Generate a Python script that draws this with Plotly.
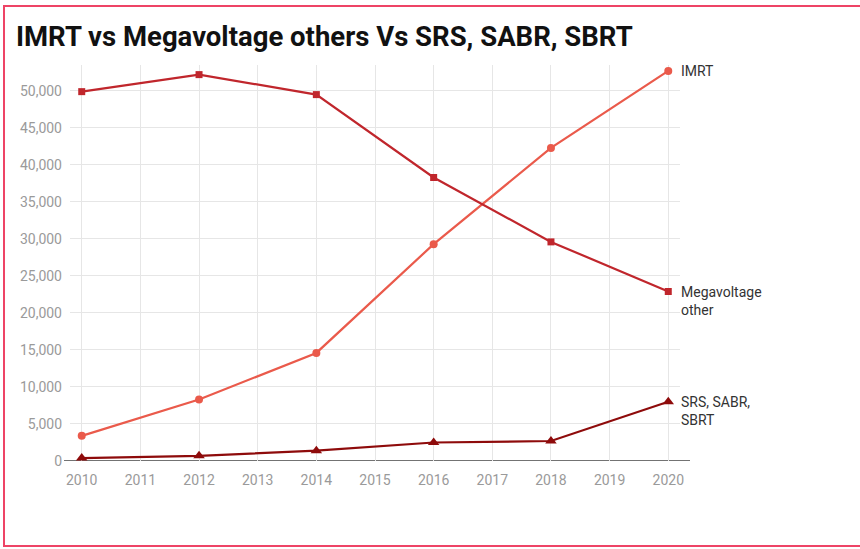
import plotly.graph_objects as go

# Yearly treatment counts by technique
years = [2010, 2012, 2014, 2016, 2018, 2020]
imrt = [3400, 8300, 14600, 29300, 42300, 52700]
megavoltage_other = [49900, 52200, 49500, 38300, 29600, 22900]
srs_sabr_sbrt = [400, 700, 1400, 2500, 2700, 8000]

x_ticks = list(range(2010, 2021))
y_ticks = list(range(0, 50001, 5000))

series = [
    ("IMRT", imrt, "#ea5a4b", "circle", 8, "IMRT"),
    ("Megavoltage other", megavoltage_other, "#c0262c", "square", 7, "Megavoltage<br>other"),
    ("SRS, SABR, SBRT", srs_sabr_sbrt, "#8e0b0b", "triangle-up", 10, "SRS, SABR,<br>SBRT"),
]

W, H = 860, 549
ML, MR, MT, MB = 70, 180, 65, 88
PW, PH = W - ML - MR, H - MT - MB

fig = go.Figure()
for name, vals, color, symbol, size, label in series:
    fig.add_trace(go.Scatter(
        x=years, y=vals, name=name, mode="lines+markers",
        line=dict(color=color, width=2.2),
        marker=dict(symbol=symbol, size=size, color=color),
        cliponaxis=False,
    ))
    multi = "<br>" in label
    fig.add_annotation(
        x=years[-1], y=vals[-1], text=label, showarrow=False,
        xanchor="left", yanchor="top" if multi else "middle",
        xshift=11, yshift=10 if multi else 0,
        align="left", font=dict(family="Roboto", size=14, color="#333333"),
    )

fig.update_layout(
    width=W, height=H,
    margin=dict(l=ML, r=MR, t=MT, b=MB),
    paper_bgcolor="white", plot_bgcolor="white",
    showlegend=False,
    font=dict(family="Roboto", size=14, color="#9a9a9a"),
    title=dict(
        text="<b>IMRT vs Megavoltage others Vs SRS, SABR, SBRT</b>",
        xref="container", x=16 / W, xanchor="left",
        yref="container", y=1 - 36 / H, yanchor="middle",
        font=dict(family="Roboto", size=27.5, color="#111111"),
    ),
    xaxis=dict(
        range=[2009.8, 2020.2], tickvals=x_ticks,
        ticktext=[str(t) for t in x_ticks],
        showgrid=True, gridcolor="#e6e6e6", gridwidth=1,
        zeroline=False, showline=False, ticks="",
        ticklabelstandoff=9,
        tickfont=dict(family="Roboto", size=14, color="#9a9a9a"),
    ),
    yaxis=dict(
        range=[0, 53500], tickvals=y_ticks,
        ticktext=[f"{v:,}" for v in y_ticks],
        showgrid=True, gridcolor="#e6e6e6", gridwidth=1,
        zeroline=False, showline=False, ticks="",
        ticklabelstandoff=7,
        tickfont=dict(family="Roboto", size=14, color="#9a9a9a"),
    ),
)

# Baseline at zero
fig.add_shape(type="line", xref="paper", yref="y",
              x0=-6 / PW, x1=1 + 10 / PW, y0=0, y1=0,
              line=dict(color="#444444", width=1.5), layer="below")

# Page frame (left, top and bottom edges visible)
fig.add_shape(type="rect", xref="paper", yref="paper",
              x0=(4 - ML) / PW, x1=(W + 6 - ML) / PW,
              y0=-(546 - (H - MB)) / PH, y1=1 + (MT - 6) / PH,
              line=dict(color="#ee4466", width=2), layer="above")

fig.write_html("out.html")
